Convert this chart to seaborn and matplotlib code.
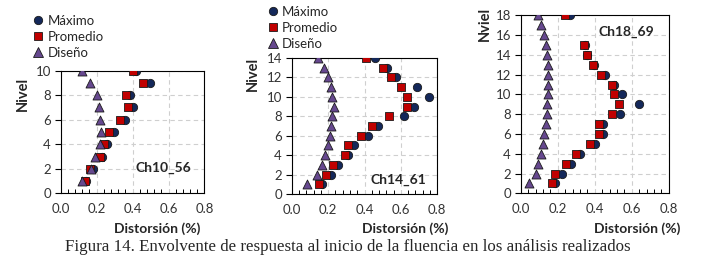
import numpy as np
import pandas as pd
import matplotlib
matplotlib.use("Agg")
import matplotlib.pyplot as plt
import seaborn as sns
from matplotlib.lines import Line2D
from matplotlib.ticker import MultipleLocator

nan = np.nan

# ---- data ----
niv1 = list(range(1, 11))
max1 = [0.141, 0.183, 0.228, 0.257, 0.297, 0.361, 0.404, 0.387, 0.497, 0.418]
prom1 = [0.136, 0.165, 0.218, 0.242, 0.272, 0.330, 0.374, 0.363, 0.461, 0.404]
dis1 = [0.121, 0.172, 0.194, 0.217, 0.224, 0.217, 0.215, 0.205, 0.165, 0.121]

niv2 = list(range(1, 15))
max2 = [0.168, 0.214, 0.252, 0.307, 0.340, 0.420, 0.475, 0.618, 0.673, 0.753, 0.691, 0.572, 0.521, 0.459]
prom2 = [0.150, 0.186, 0.227, 0.293, 0.311, 0.382, 0.441, 0.536, 0.631, 0.633, 0.603, 0.545, 0.503, 0.408]
dis2 = [0.084, 0.141, 0.165, 0.183, 0.199, 0.212, 0.217, 0.221, 0.230, 0.223, 0.216, 0.197, 0.179, 0.143]

niv3 = list(range(1, 19))
max3 = [0.186, 0.223, 0.272, 0.323, 0.402, 0.443, 0.447, 0.539, 0.640, 0.546, 0.506, 0.458, 0.395, 0.360, 0.347, nan, nan, 0.267]
prom3 = [0.170, 0.187, 0.247, 0.301, 0.377, 0.422, 0.423, 0.492, 0.530, 0.506, 0.492, 0.434, 0.391, 0.357, 0.344, nan, nan, 0.241]
dis3 = [0.045, 0.081, 0.095, 0.108, 0.119, 0.128, 0.137, 0.141, 0.144, 0.146, 0.150, 0.150, 0.148, 0.142, 0.137, 0.124, 0.108, 0.094]

series_labels = ["Máximo", "Promedio", "Diseño"]
panel_names = ["Ch10_56", "Ch14_61", "Ch18_69"]
ylabels = ["Nivel", "Nivel", "Nviel"]
xlabel = "Distorsión (%)"
caption = "Figura 14. Envolvente de respuesta al inicio de la fluencia en los análisis realizados"
ymax = [10, 14, 18]

# ---- style ----
sns.set_style("white")
plt.rcParams["font.family"] = ["Lato", "DejaVu Sans"]

W, H = 706, 272
fig = plt.figure(figsize=(W / 100, H / 100), dpi=100)


def fx(x):
    return x / W


def fy(y):
    return 1 - y / H


def axrect(l, r, t, b):
    return [fx(l), fy(b), (r - l) / W, (b - t) / H]


rects = [axrect(60.5, 204.5, 70.7, 193.3),
         axrect(291.7, 437.3, 58.0, 194.0),
         axrect(520.7, 668.7, 15.3, 193.3)]

c_max = "#14285a"
c_prom = "#c00000"
c_dis = "#66488f"
edge = "#1a1a1a"
styles = [("o", c_max, 36), ("s", c_prom, 34), ("^", c_dis, 42)]

data = [(niv1, max1, prom1, dis1), (niv2, max2, prom2, dis2), (niv3, max3, prom3, dis3)]

axes = []
for i, (niv, mx, pr, ds) in enumerate(data):
    ax = fig.add_axes(rects[i])
    axes.append(ax)
    df = pd.DataFrame({"Nivel": niv, series_labels[0]: mx, series_labels[1]: pr, series_labels[2]: ds})
    for k, lab in enumerate(series_labels):
        m, c, s = styles[k]
        sns.scatterplot(data=df, x=lab, y="Nivel", ax=ax, marker=m, color=c, s=s,
                        edgecolor=edge, linewidth=0.6, zorder=3 + k, legend=False)
    ax.set_xlim(0, 0.8)
    ax.set_ylim(0, ymax[i])
    ax.xaxis.set_major_locator(MultipleLocator(0.2))
    ax.xaxis.set_minor_locator(MultipleLocator(0.04))
    ax.yaxis.set_major_locator(MultipleLocator(2))
    ax.set_xticklabels([f"{v:.1f}" for v in ax.get_xticks()])
    ax.grid(True, which="major", color="#cfcfcf", linestyle=(0, (4, 3)), linewidth=0.8)
    ax.set_axisbelow(True)
    for sp in ax.spines.values():
        sp.set_color("#000000")
        sp.set_linewidth(0.8)
        sp.set_visible(True)
    ax.tick_params(axis="x", which="major", direction="out", length=4, width=0.8,
                   labelsize=9.5, colors="#000000", labelcolor="#333333", pad=3)
    ax.tick_params(axis="x", which="minor", direction="in", length=3, width=0.7, colors="#000000", bottom=True)
    ax.tick_params(axis="y", which="major", direction="out", length=4, width=0.8,
                   labelsize=9.5, colors="#000000", labelcolor="#333333", pad=3, left=True)
    ax.set_xlabel("")
    ax.set_ylabel("")

# panel names
fig.text(fx(163), fy(168), panel_names[0], fontsize=10, fontweight="bold", ha="center", va="center")
fig.text(fx(398), fy(180), panel_names[1], fontsize=10, fontweight="bold", ha="center", va="center")
fig.text(fx(626), fy(32), panel_names[2], fontsize=10, fontweight="bold", ha="center", va="center")

# y labels
for (x, y), lab in zip([(22.7, 93.5), (252.7, 73.5), (485.0, 23.5)], ylabels):
    fig.text(fx(x), fy(y), lab, fontsize=10.5, fontweight="bold", rotation=90, ha="center", va="center")

# x labels
for x, in [(157,), (405,), (637,)]:
    fig.text(fx(x), fy(229), xlabel, fontsize=10, fontweight="bold", ha="center", va="center")

# caption
fig.text(fx(348), fy(251), caption, fontsize=12.2, family="Liberation Serif", ha="center", va="baseline")

# legends
handles = [Line2D([], [], linestyle="none", marker=m, markersize=np.sqrt(s), markerfacecolor=c,
                  markeredgecolor=edge, markeredgewidth=0.6) for m, c, s in styles]
for (x, y) in [(33, 15), (267.7, 6)]:
    fig.legend(handles, series_labels, loc="upper left", bbox_to_anchor=(fx(x), fy(y)),
               frameon=False, fontsize=9.5, handlelength=0.8, handletextpad=0.3,
               labelspacing=0.3, borderpad=0, borderaxespad=0)

fig.savefig("out.png", dpi=100)
